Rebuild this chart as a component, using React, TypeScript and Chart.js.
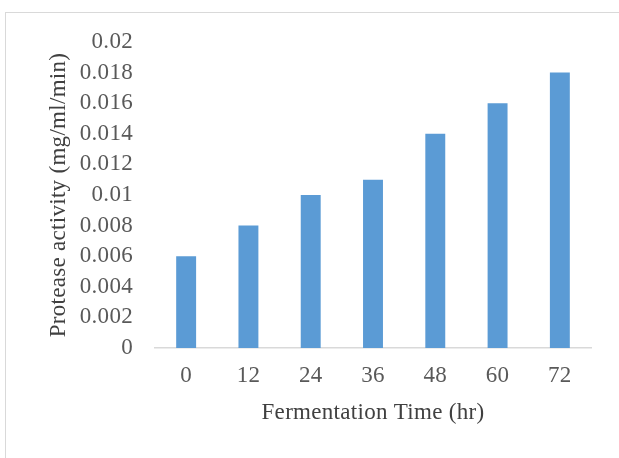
import React, { useEffect, useRef } from "react";
import { Chart, registerables } from "chart.js";

Chart.register(...registerables);

const categories: string[] = ["0", "12", "24", "36", "48", "60", "72"];
const activity: number[] = [0.006, 0.008, 0.01, 0.011, 0.014, 0.016, 0.018];
const yTitle = "Protease activity (mg/ml/min)";
const xTitle = "Fermentation Time (hr)";

const FONT = "'Liberation Serif', 'Times New Roman', serif";

const spacingPlugin = {
  id: "letterSpacing",
  beforeDraw(chart: any) {
    try {
      chart.ctx.letterSpacing = "0.3px";
    } catch (e) {}
  },
};

export default function App() {
  const ref = useRef<HTMLCanvasElement | null>(null);

  useEffect(() => {
    document.body.style.margin = "0";
    document.body.style.overflow = "hidden";
    const canvas = ref.current;
    if (!canvas) return;
    const chart = new Chart(canvas, {
      type: "bar",
      data: {
        labels: categories,
        datasets: [
          {
            data: activity,
            backgroundColor: "#5B9BD5",
            borderWidth: 0,
            categoryPercentage: 1,
            barPercentage: 0.32,
          },
        ],
      },
      plugins: [spacingPlugin],
      options: {
        responsive: false,
        animation: false,
        devicePixelRatio: 1,
        layout: { padding: { left: 40, right: 28, top: 42, bottom: 0 } },
        plugins: { legend: { display: false }, tooltip: { enabled: false } },
        scales: {
          x: {
            grid: { display: false, drawTicks: false, tickLength: 0 },
            border: { display: true, color: "#D9D9D9", width: 1.5 },
            ticks: {
              color: "#595959",
              font: { family: FONT, size: 23 },
              padding: 14,
              maxRotation: 0,
            },
            title: {
              display: true,
              text: xTitle,
              color: "#404040",
              font: { family: FONT, size: 23 },
              padding: { top: 0, bottom: 31 },
            },
            afterFit: (scale: any) => {
              scale.height = 110;
            },
          },
          y: {
            min: 0,
            max: 0.02,
            grid: { display: false, drawTicks: false, tickLength: 0 },
            border: { display: false },
            ticks: {
              stepSize: 0.002,
              color: "#595959",
              font: { family: FONT, size: 23 },
              padding: 22,
              callback: (v: any) => String(Math.round(Number(v) * 1000) / 1000),
            },
            title: {
              display: true,
              text: yTitle,
              color: "#404040",
              font: { family: FONT, size: 23 },
              padding: { top: 5, bottom: 0 },
            },
            afterFit: (scale: any) => {
              scale.width = 115;
            },
          },
        },
      },
    });
    return () => chart.destroy();
  }, []);

  return (
    <div
      style={{
        position: "fixed",
        left: 0,
        top: 0,
        width: 619,
        height: 458,
        overflow: "hidden",
        background: "#fff",
      }}
    >
      <div
        style={{
          position: "absolute",
          left: 5,
          top: 12,
          width: 700,
          height: 600,
          border: "1px solid #D9D9D9",
        }}
      />
      <canvas
        ref={ref}
        width={619}
        height={458}
        style={{ position: "absolute", left: 0, top: 0 }}
      />
    </div>
  );
}
